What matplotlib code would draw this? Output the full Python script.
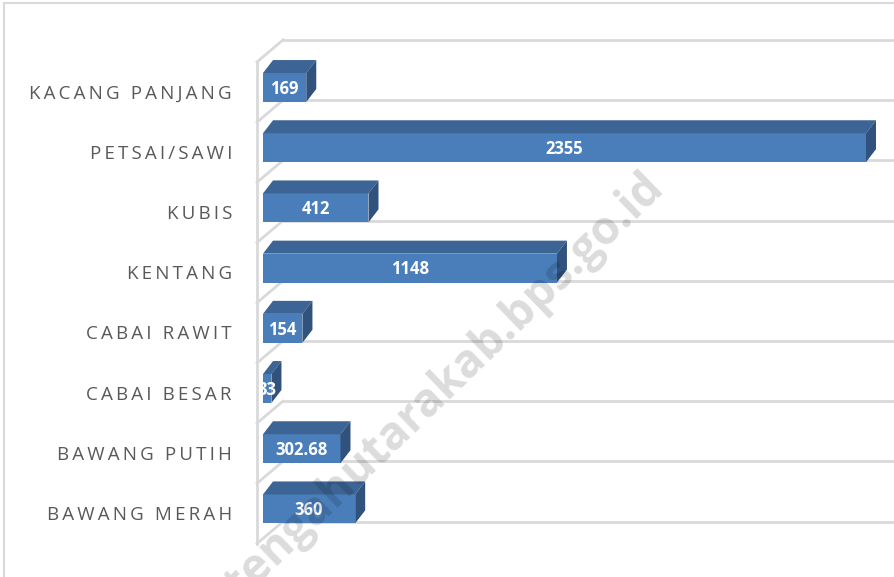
import matplotlib
matplotlib.use("Agg")
from matplotlib import pyplot as plt
from matplotlib.patches import Polygon
from matplotlib.lines import Line2D

# data (top to bottom as shown)
kategori = ["KACANG PANJANG", "PETSAI/SAWI", "KUBIS", "KENTANG",
            "CABAI RAWIT", "CABAI BESAR", "BAWANG PUTIH", "BAWANG MERAH"]
nilai = [169, 2355, 412, 1148, 154, 33, 302.68, 360]
label_nilai = ["169", "2355", "412", "1148", "154", "33", "302.68", "360"]

W, H = 894, 577
X0_PX, XMAX_PX = 263, 866          # pixel of value 0 and of the max value
Y0_PX, STEP_PX = 87.5, 60.2         # centre of first bar, category step

warna_depan = "#4a7ebb"
warna_atas = "#3c6595"
warna_sisi = "#30527c"
warna_grid = "#d9d9d9"

fig = plt.figure(figsize=(W / 100, H / 100), dpi=100)
ax = fig.add_axes([X0_PX / W, 0, (W - X0_PX) / W, 1])
ax.set_axis_off()

skala = (XMAX_PX - X0_PX) / max(nilai)       # px per unit
ax.set_xlim(0, (W - X0_PX) / skala)
ax.set_ylim((H - Y0_PX) / STEP_PX, -Y0_PX / STEP_PX)

DX = 10 / skala        # depth offset in data units
DY = 13 / STEP_PX
tinggi = 0.48

# dinding belakang / garis kategori
x_kiri = -6 / skala
x_dinding = 20 / skala
garis_y = [i + 0.21 for i in range(-1, len(kategori))]
for gy in garis_y:
    ax.plot([x_dinding, ax.get_xlim()[1]], [gy, gy], color=warna_grid, lw=2, zorder=1)
    ax.plot([x_kiri, x_dinding], [gy + 22 / STEP_PX, gy], color=warna_grid, lw=2,
            zorder=1, clip_on=False)
ax.plot([x_kiri, x_kiri], [garis_y[0] + 22 / STEP_PX, garis_y[-1] + 22 / STEP_PX],
        color=warna_grid, lw=2, zorder=1, clip_on=False)

# batang 3D
pos = list(range(len(kategori)))
ax.barh(pos, nilai, height=tinggi, color=warna_depan, zorder=3)
for c, v in zip(pos, nilai):
    atas = c - tinggi / 2
    bawah = c + tinggi / 2
    ax.add_patch(Polygon([(0, atas), (v, atas), (v + DX, atas - DY), (DX, atas - DY)],
                         closed=True, color=warna_atas, zorder=3, lw=0))
    ax.add_patch(Polygon([(v, atas), (v + DX, atas - DY), (v + DX, bawah - DY), (v, bawah)],
                         closed=True, color=warna_sisi, zorder=3, lw=0))

for c, v, t in zip(pos, nilai, label_nilai):
    ax.text(v / 2, c + 0.02, t, ha="center", va="center", color="white",
            fontsize=12, fontweight="bold", family=["Open Sans", "DejaVu Sans"],
            zorder=5, clip_on=True)

# label kategori (dengan jarak huruf lebar)
for c, k in zip(pos, kategori):
    teks = "\u2009".join(k)
    ax.text(-31 / skala, c + 0.1, teks, ha="right", va="center", color="#595959",
            fontsize=13.5, family=["Open Sans", "DejaVu Sans"], clip_on=False)

# watermark
fig.text(640 / W, 1 - 165 / H, "tengahutarakab.bps.go.id", ha="right", va="top",
         rotation=44, rotation_mode="anchor", fontsize=33, fontweight="bold",
         family=["Open Sans", "DejaVu Sans"], color="black", alpha=0.14, zorder=10)

# bingkai luar
fig.add_artist(Line2D([4 / W, 1], [1 - 3 / H, 1 - 3 / H], color=warna_grid, lw=1.5))
fig.add_artist(Line2D([4 / W, 4 / W], [0, 1 - 3 / H], color=warna_grid, lw=1.5))

fig.savefig("out.png", dpi=100)
